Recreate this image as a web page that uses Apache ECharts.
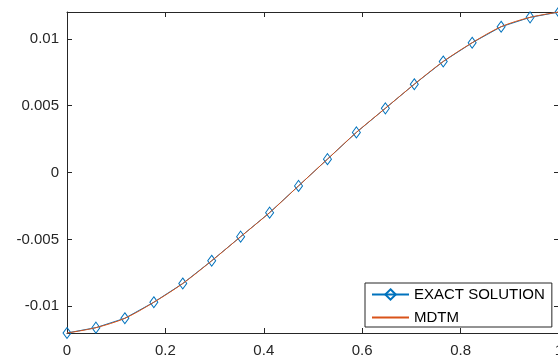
<!DOCTYPE html>
<html>
<head>
<meta charset="utf-8">
<script src="https://cdn.jsdelivr.net/npm/echarts@6/dist/echarts.min.js"></script>
<style>
html,body{margin:0;padding:0;background:#fff;}
#chart{width:558px;height:361px;}
</style>
</head>
<body>
<div id="chart"></div>
<script>
var xValues = [0, 0.0588, 0.1176, 0.1765, 0.2353, 0.2941, 0.3529, 0.4118, 0.4706, 0.5294, 0.5882, 0.6471, 0.7059, 0.7647, 0.8235, 0.8824, 0.9412, 1];
var exactValues = [-0.012, -0.0116, -0.0109, -0.0097, -0.0083, -0.0066, -0.0048, -0.0030, -0.0010, 0.0010, 0.0030, 0.0048, 0.0066, 0.0083, 0.0097, 0.0109, 0.0116, 0.012];
var mdtmValues = [-0.012, -0.0116, -0.0109, -0.0097, -0.0083, -0.0066, -0.0048, -0.0030, -0.0010, 0.0010, 0.0030, 0.0048, 0.0066, 0.0083, 0.0097, 0.0109, 0.0116, 0.012];
var xTicks = [0, 0.2, 0.4, 0.6, 0.8, 1];
var yTicks = [-0.01, -0.005, 0, 0.005, 0.01];
var seriesNames = ['EXACT SOLUTION', 'MDTM'];

function pairs(xs, ys) {
  return xs.map(function (x, i) { return [x, ys[i]]; });
}

var axisColor = '#262626';
var fontFamily = '"Liberation Sans", Arial, Helvetica, sans-serif';

var chart = echarts.init(document.getElementById('chart'), null, {renderer: 'canvas'});
chart.setOption({
  animation: false,
  backgroundColor: '#ffffff',
  grid: {left: 67, right: -1, top: 12, bottom: 28, containLabel: false, outerBoundsMode: 'none'},
  xAxis: [{
    type: 'value', min: 0, max: 1, interval: 0.2,
    axisLine: {show: true, onZero: false, lineStyle: {color: axisColor, width: 1}},
    axisTick: {show: true, inside: true, length: 5, customValues: xTicks, lineStyle: {color: axisColor}},
    axisLabel: {show: true, customValues: xTicks, color: axisColor, fontSize: 15, fontFamily: fontFamily, margin: 10,
      formatter: function (v) { return String(v); }},
    splitLine: {show: false}
  }, {
    type: 'value', min: 0, max: 1, interval: 0.2, position: 'top',
    axisLine: {show: true, onZero: false, lineStyle: {color: axisColor, width: 1}},
    axisTick: {show: true, inside: true, length: 5, customValues: xTicks, lineStyle: {color: axisColor}},
    axisLabel: {show: false},
    splitLine: {show: false}
  }],
  yAxis: [{
    type: 'value', min: -0.012, max: 0.012,
    axisLine: {show: true, onZero: false, lineStyle: {color: axisColor, width: 1}},
    axisTick: {show: true, inside: true, length: 5, customValues: yTicks, lineStyle: {color: axisColor}},
    axisLabel: {show: true, customValues: yTicks, color: axisColor, fontSize: 15, fontFamily: fontFamily, margin: 8,
      formatter: function (v) { return String(v); }},
    splitLine: {show: false}
  }, {
    type: 'value', min: -0.012, max: 0.012, position: 'right',
    axisLine: {show: true, onZero: false, lineStyle: {color: axisColor, width: 1}},
    axisTick: {show: true, inside: true, length: 5, customValues: yTicks, lineStyle: {color: axisColor}},
    axisLabel: {show: false},
    splitLine: {show: false}
  }],
  legend: {
    show: true,
    orient: 'vertical',
    left: 365, top: 283,
    padding: [4, 7, 2, 6],
    itemWidth: 37, itemHeight: 13, itemGap: 8,
    borderColor: axisColor, borderWidth: 1, backgroundColor: '#ffffff',
    textStyle: {color: '#000000', fontSize: 15, fontFamily: fontFamily},
    data: seriesNames
  },
  series: [{
    name: seriesNames[0],
    type: 'line',
    data: pairs(xValues, exactValues),
    symbol: 'diamond',
    symbolSize: [8, 11],
    showSymbol: true,
    clip: false,
    lineStyle: {color: '#0072BD', width: 1},
    itemStyle: {color: 'rgba(255,255,255,0)', borderColor: '#0072BD', borderWidth: 1},
    z: 2
  }, {
    name: seriesNames[1],
    type: 'line',
    data: pairs(xValues, mdtmValues),
    symbol: 'none',
    showSymbol: false,
    smooth: 0.3,
    clip: false,
    lineStyle: {color: '#D95319', width: 1},
    itemStyle: {color: 'rgba(0,0,0,0)', borderColor: 'rgba(0,0,0,0)', borderWidth: 0},
    z: 3
  }]
});
</script>
</body>
</html>
